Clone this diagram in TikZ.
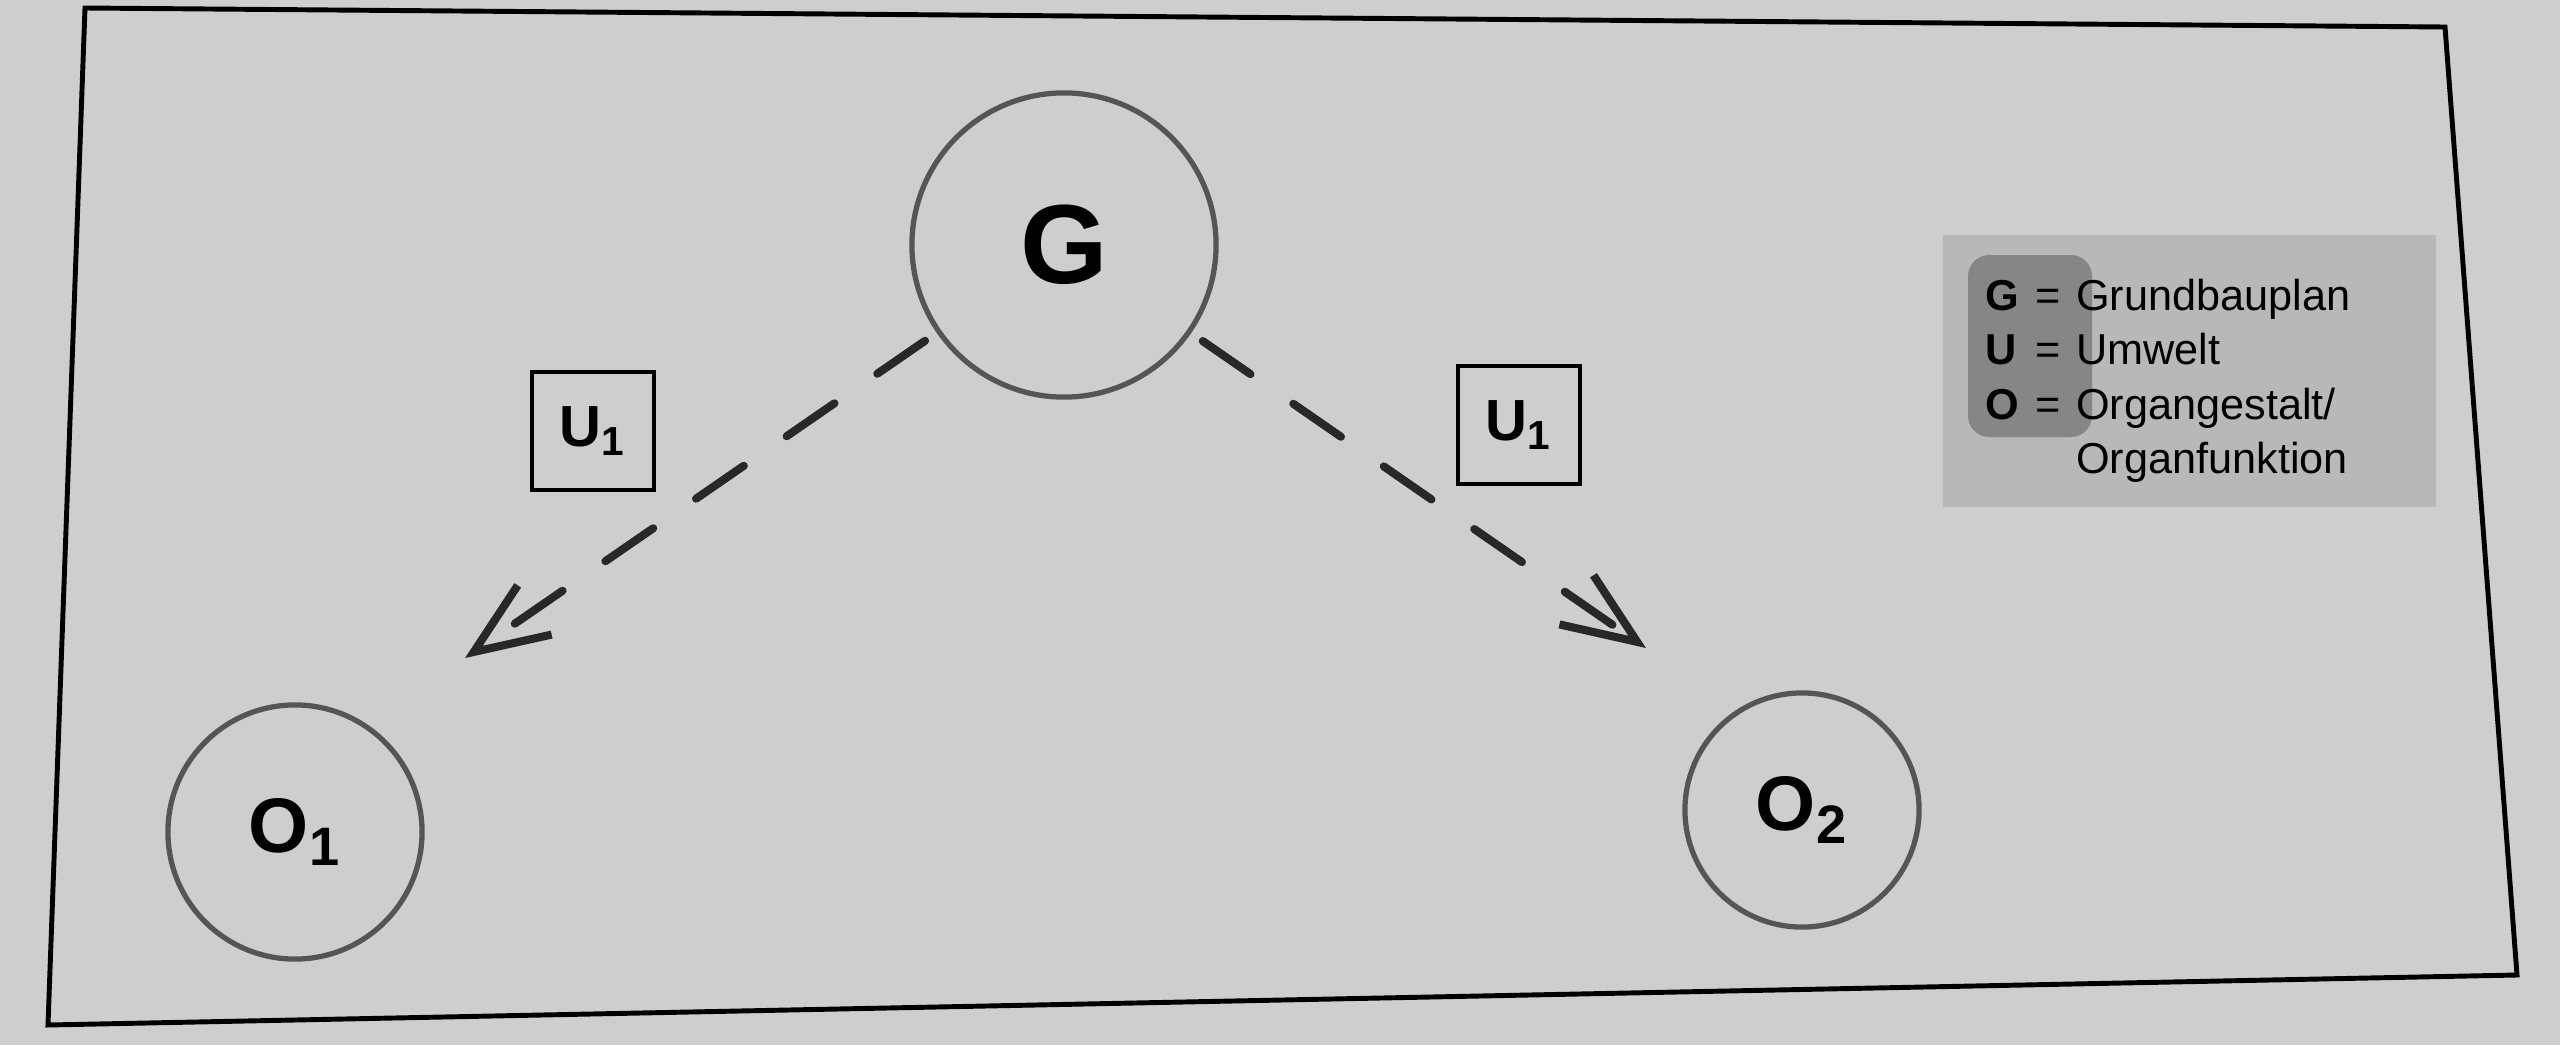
\documentclass[tikz,border=0pt]{standalone}
\usepackage{fontspec}
\setmainfont{Liberation Sans}
\usetikzlibrary{positioning,arrows.meta}
\definecolor{paper}{RGB}{206,206,204}
\definecolor{legendgray}{RGB}{184,184,182}
\definecolor{markgray}{RGB}{134,134,132}
\definecolor{ringgray}{RGB}{85,85,85}
\definecolor{dashgray}{RGB}{40,40,40}
\tikzset{
  ring/.style={circle, draw=ringgray, line width=1.5pt, inner sep=0pt},
  envbox/.style={draw=black, line width=0.9pt, minimum width=1.22cm, minimum height=1.18cm,
                 inner sep=0pt, font=\fontsize{16.5}{16.5}\selectfont\bfseries},
  influence/.style={draw=dashgray, line width=2.3pt, line cap=round,
                    dash pattern=on 16.5pt off 14.8pt, shorten <=4pt,
                    -{Straight Barb[length=21pt,width=17pt]}},
}

\begin{document}
\begin{tikzpicture}[x=0.01cm, y=-0.01cm]
      \fill[paper] (0,0) rectangle (2560,1045);
      \useasboundingbox (0,0) rectangle (2560,1045);
      \draw[black, line width=1.4pt] (85,8) -- (2445,27) -- (2517,975) -- (48,1025) -- cycle;

      \node[ring, minimum size=3.04cm, font=\fontsize{32}{32}\selectfont\bfseries] (g) at (1064,245) {G};
      \node[ring, minimum size=2.54cm, font=\fontsize{22}{22}\selectfont\bfseries] (o1) at (295,832) {O\textsubscript{1}};
      \node[ring, minimum size=2.34cm, font=\fontsize{22}{22}\selectfont\bfseries] (o2) at (1802,810) {O\textsubscript{2}};

      \node[envbox] (u1) at (593,431) {U\textsubscript{1}};
      \node[envbox] (u2) at (1519,425) {U\textsubscript{1}};

      \coordinate (t1) at (465,658);
      \coordinate (t2) at (1646,648);
      \draw[influence] (g) -- (t1);
      \draw[influence] (g) -- (t2);

      % legend
      \fill[legendgray] (1943,235) rectangle (2436,507);
      \fill[markgray, rounded corners=6pt] (1968,255) rectangle (2092,437);
      \node[anchor=base west, inner sep=0pt, font=\fontsize{12.3}{15.5}\selectfont] (legend) at (1985,310) {%
         \begin{tabular}[t]{@{}l@{\hspace{4.5pt}}l@{\hspace{4.5pt}}l@{}}
            \textbf{G} & = & Grundbauplan\\
            \textbf{U} & = & Umwelt\\
            \textbf{O} & = & Organgestalt/\\
                       &   & Organfunktion
         \end{tabular}};
\end{tikzpicture}
\end{document}
